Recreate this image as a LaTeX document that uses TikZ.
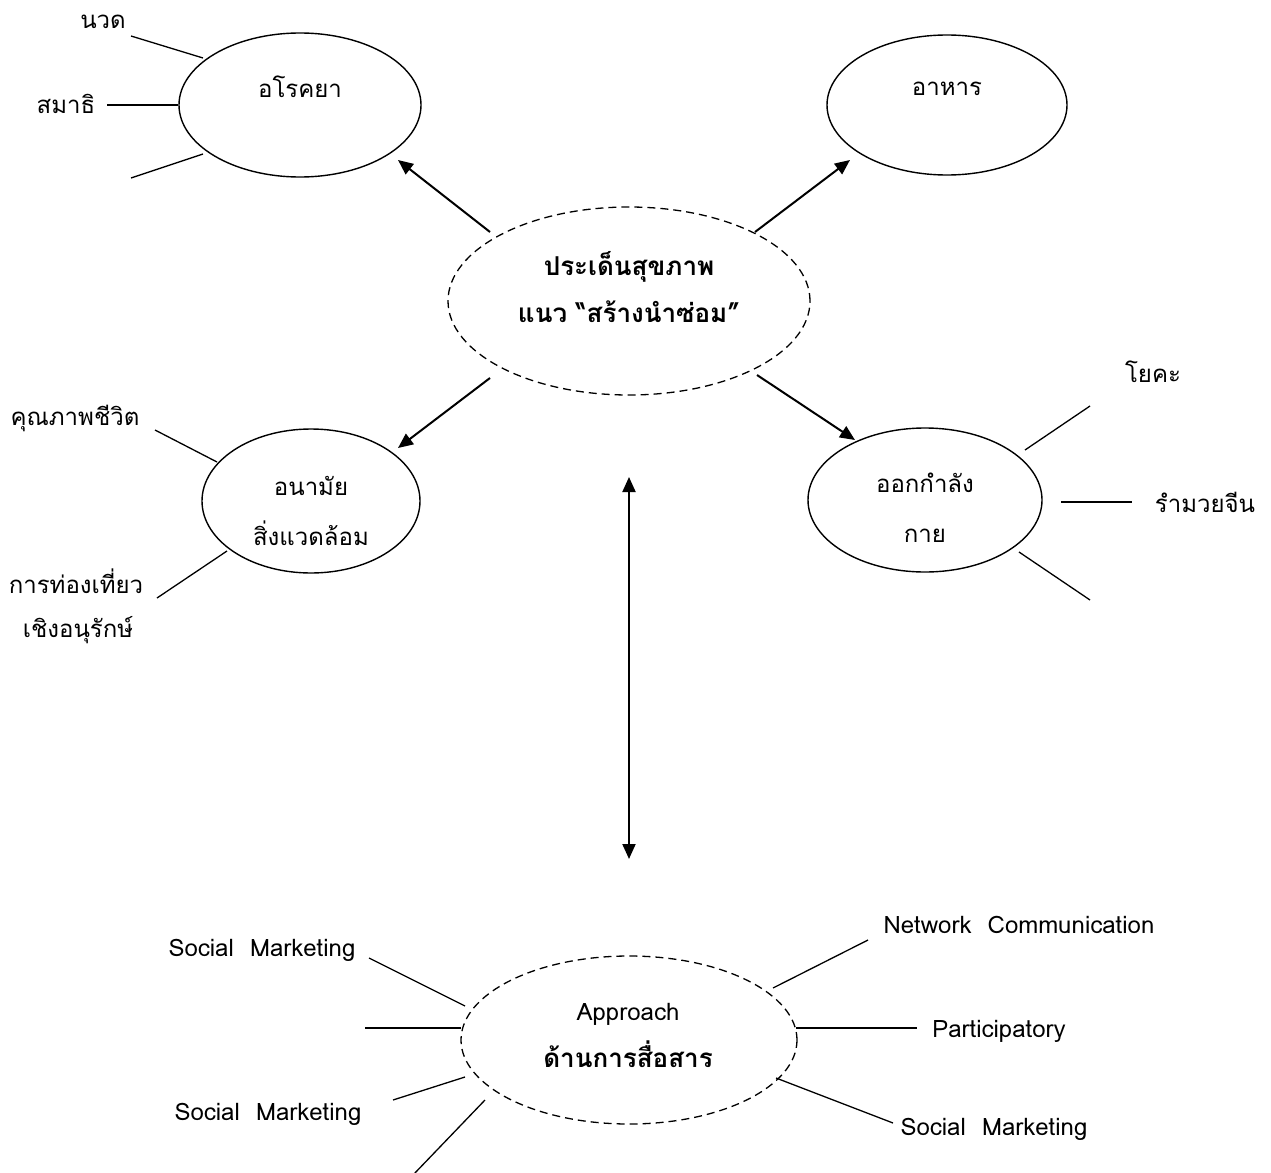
\documentclass[tikz,border=0pt]{standalone}
\usepackage{fontspec}
\setmainfont[Script=Thai]{Loma}
\usetikzlibrary{shapes.geometric,arrows.meta,calc}

\begin{document}
\begin{tikzpicture}[x=1pt,y=-1pt,
  every node/.style={font=\fontsize{24}{28}\selectfont},
  bubble/.style={ellipse, draw, line width=1.4pt, inner sep=0pt},
  hubbubble/.style={bubble, line width=1.3pt, dash pattern=on 8pt off 5pt},
  lbl/.style={anchor=base, inner sep=0pt},
  boldlbl/.style={lbl, font=\fontsize{26}{30}\selectfont\bfseries},
  arr/.style={line width=2pt, -{Triangle[length=15pt,width=13pt]}},
  twoway/.style={line width=2pt, {Triangle[length=15pt,width=13pt]}-{Triangle[length=15pt,width=13pt]}},
  spoke/.style={line width=1.3pt},
]
\useasboundingbox (0,0) rectangle (1271,1172);

% ---- bubbles ----
\node[hubbubble, minimum width=362pt, minimum height=188pt] (hub) at (629,301) {};
\node[bubble, minimum width=242pt, minimum height=144pt] (arokaya) at (300,105) {};
\node[bubble, minimum width=240pt, minimum height=140pt] (ahan) at (947,105) {};
\node[bubble, minimum width=218pt, minimum height=144pt] (anamai) at (311,501) {};
\node[bubble, minimum width=234pt, minimum height=144pt] (exercise) at (925,500) {};
\node[hubbubble, minimum width=336pt, minimum height=168pt] (approach) at (629,1040) {};

% ---- bubble texts ----
\node[boldlbl] (hubA) at (629,275) {ประเด็นสุขภาพ};
\node[boldlbl] (hubB) at (629,322) {แนว “สร้างนำซ่อม”};
\node[lbl] (arokayaT) at (300,97) {อโรคยา};
\node[lbl] (ahanT) at (947,95) {อาหาร};
\node[lbl] (anamaiA) at (311,495) {อนามัย};
\node[lbl] (anamaiB) at (311,545) {สิ่งแวดล้อม};
\node[lbl] (exerciseA) at (925,492) {ออกกำลัง};
\node[lbl] (exerciseB) at (925,542) {กาย};
\node[lbl] (approachA) at (628,1020) {Approach};
\node[boldlbl] (approachB) at (628,1067) {ด้านการสื่อสาร};

% ---- arrows from the hub ----
\draw[arr] ($(hub.center)+(-139,-69)$) -- ($(arokaya.center)+(98,55)$);
\draw[arr] ($(hub.center)+(126,-69)$) -- ($(ahan.center)+(-97,55)$);
\draw[arr] ($(hub.center)+(-139,77)$) -- ($(anamai.center)+(87,-53)$);
\draw[arr] ($(hub.center)+(128,74)$) -- ($(exercise.center)+(-70,-60)$);
\draw[twoway] ($(hub.center)+(0,176)$) -- ($(approach.center)+(0,-181)$);

% ---- spoke labels ----
\node[lbl] (nuad) at (103,29) {นวด};
\node[lbl] (samathi) at (66,113) {สมาธิ};
\node[lbl] (quality) at (75,425) {คุณภาพชีวิต};
\node[lbl] (tourA) at (76,593) {การท่องเที่ยว};
\node[lbl] (tourB) at (78,637) {เชิงอนุรักษ์};
\node[lbl] (yoga) at (1153,382) {โยคะ};
\node[lbl] (taichi) at (1205,512) {รำมวยจีน};
\node[lbl] (smA) at (262,956) {Social\ \ Marketing};
\node[lbl] (smB) at (268,1120) {Social\ \ Marketing};
\node[lbl] (netcom) at (1019,933) {Network\ \ Communication};
\node[lbl] (partic) at (999,1037) {Participatory};
\node[lbl] (smC) at (994,1135) {Social\ \ Marketing};

% ---- spoke ends ----
\coordinate (eNuad) at (131,36);
\coordinate (eSamathi) at (107,105);
\coordinate (eArokaya) at (131,178);
\coordinate (eQuality) at (155,430);
\coordinate (eTour) at (157,598);
\coordinate (eYoga) at (1090,406);
\coordinate (eTaichi) at (1132,502);
\coordinate (eExercise) at (1090,600);
\coordinate (eSmA) at (369,958);
\coordinate (eMid) at (365,1028);
\coordinate (eSmB) at (393,1100);
\coordinate (eLow) at (413,1175);
\coordinate (eNetcom) at (868,940);
\coordinate (ePartic) at (917,1028);
\coordinate (eSmC) at (893,1123);

% ---- spokes ----
\draw[spoke] ($(arokaya.center)+(-97,-47)$) -- (eNuad);
\draw[spoke] ($(arokaya.center)+(-122,0)$) -- (eSamathi);
\draw[spoke] ($(arokaya.center)+(-97,49)$) -- (eArokaya);
\draw[spoke] ($(anamai.center)+(-94,-39)$) -- (eQuality);
\draw[spoke] ($(anamai.center)+(-84,50)$) -- (eTour);
\draw[spoke] ($(exercise.center)+(100,-50)$) -- (eYoga);
\draw[spoke] ($(exercise.center)+(136,2)$) -- (eTaichi);
\draw[spoke] ($(exercise.center)+(94,52)$) -- (eExercise);
\draw[spoke] ($(approach.center)+(-164,-34)$) -- (eSmA);
\draw[spoke] ($(approach.center)+(-168,-12)$) -- (eMid);
\draw[spoke] ($(approach.center)+(-164,37)$) -- (eSmB);
\draw[spoke] ($(approach.center)+(-144,60)$) -- (eLow);
\draw[spoke] ($(approach.center)+(144,-52)$) -- (eNetcom);
\draw[spoke] ($(approach.center)+(167,-12)$) -- (ePartic);
\draw[spoke] ($(approach.center)+(147,38)$) -- (eSmC);
\end{tikzpicture}
\end{document}
